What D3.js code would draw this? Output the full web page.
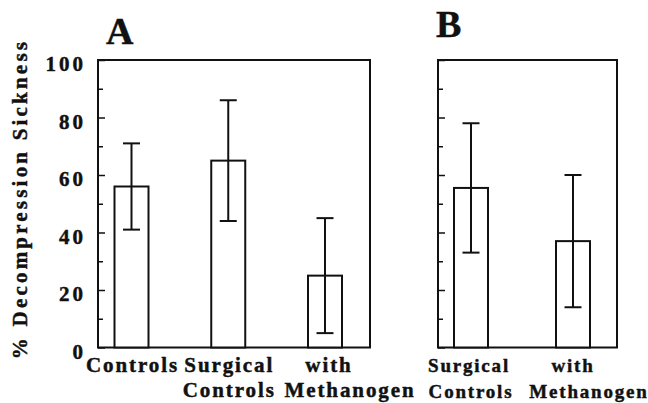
<!doctype html>
<html lang="en">
<head>
  <meta charset="utf-8">
  <title>Decompression sickness</title>
  <style>
  body { margin: 0; background: #fff; }
  svg { display: block; }
  svg text { stroke: #111; stroke-width: 0.45px; }
  .frame, .bar, .err { stroke: #111; stroke-width: 2; }
  .frame { fill: none; }
  .bar { fill: #fff; }
  </style>
</head>
<body>
  <div id="chart"></div>
  <script src="https://d3js.org/d3.v7.min.js"></script>
  <script>
// panel A
var catsA = [["Controls"], ["Surgical", "Controls"], ["with", "Methanogen"]];
var meanA = [56, 65, 25];
var hiA = [71, 86, 45];
var loA = [41, 44, 5];

// panel B
var catsB = [["Surgical", "Controls"], ["with", "Methanogen"]];
var meanB = [55.5, 37];
var hiB = [78, 60];
var loB = [33, 14];

var yTicks = [0, 10, 20, 30, 40, 50, 60, 70, 80, 90, 100];
var yLabels = ["0", "20", "40", "60", "80", "100"];

(function() {
  var width = 648, height = 403;
  var serif = "'Liberation Serif', 'Times New Roman', 'DejaVu Serif', serif";

  var svg = d3.select("#chart").append("svg")
      .attr("width", width)
      .attr("height", height)
      .attr("font-family", serif)
      .attr("font-weight", "bold");

  var y = d3.scaleLinear().domain([0, 100]).range([347.5, 60]);

  function panel(opt) {
    var g = svg.append("g");
    var x = d3.scaleLinear().domain([0, opt.mean.length - 1]).range(opt.centers);

    var axis = d3.axisLeft(y)
        .tickValues(yTicks)
        .tickSize(-7)
        .tickPadding(12)
        .tickFormat(function(d) {
          return opt.labels && yLabels.indexOf(String(d)) >= 0 ? d : "";
        });

    var ax = g.append("g")
        .attr("transform", "translate(" + opt.left + ",0)")
        .call(axis)
        .attr("font-family", serif)
        .attr("font-size", 21);
    ax.select(".domain").remove();
    ax.selectAll(".tick line")
        .attr("stroke", "#111")
        .attr("stroke-width", 1.5)
        .attr("x2", function(d) { return d % 20 === 0 ? 7 : 5; });
    ax.selectAll(".tick text")
        .attr("dy", "0.52em")
        .style("font-family", serif)
        .style("font-weight", "bold")
        .style("letter-spacing", "3px")
        .attr("fill", "#111");

    g.append("rect")
        .attr("class", "frame")
        .attr("x", opt.left)
        .attr("y", y(100))
        .attr("width", opt.right - opt.left)
        .attr("height", y(0) - y(100));

    var bw = 34;
    g.selectAll(".bar").data(opt.mean).enter().append("rect")
        .attr("class", "bar")
        .attr("x", function(d, i) { return x(i) - bw / 2; })
        .attr("y", function(d) { return y(d); })
        .attr("width", bw)
        .attr("height", function(d) { return y(0) - y(d); });

    var err = g.selectAll(".errg").data(opt.mean).enter().append("g")
        .attr("class", "err");
    err.append("line")
        .attr("x1", function(d, i) { return x(i); })
        .attr("x2", function(d, i) { return x(i); })
        .attr("y1", function(d, i) { return y(opt.hi[i]); })
        .attr("y2", function(d, i) { return y(opt.lo[i]); });
    [opt.hi, opt.lo].forEach(function(arr) {
      err.append("line")
          .attr("x1", function(d, i) { return x(i) - 8.5; })
          .attr("x2", function(d, i) { return x(i) + 8.5; })
          .attr("y1", function(d, i) { return y(arr[i]); })
          .attr("y2", function(d, i) { return y(arr[i]); });
    });

    var lab = g.selectAll(".lab").data(opt.cats).enter().append("text")
        .attr("text-anchor", "middle")
        .attr("fill", "#111")
        .style("font-family", serif)
        .style("font-size", opt.fs + "px")
        .style("letter-spacing", opt.ls + "px");
    lab.each(function(lines, i) {
      var t = d3.select(this);
      lines.forEach(function(s, j) {
        var nudge = opt.nudge[s] || 0;
        t.append("tspan")
            .attr("x", x(i) + nudge)
            .attr("y", opt.base[j])
            .text(s);
      });
    });

    g.append("text")
        .attr("x", opt.tx)
        .attr("y", opt.ty)
        .attr("fill", "#111")
        .style("font-family", serif)
        .style("font-size", "38px")
        .text(opt.title);
  }

  panel({
    title: "A", tx: 106, ty: 43.5,
    left: 98, right: 370, centers: [131.5, 325],
    cats: catsA, mean: meanA, hi: hiA, lo: loA, labels: true,
    fs: 21, ls: 1.9, base: [371.5, 396.5],
    nudge: { "with": 4, "Methanogen": 25, "Surgical": 1, "Controls": 1 }
  });

  panel({
    title: "B", tx: 436, ty: 37,
    left: 438, right: 617, centers: [471, 573],
    cats: catsB, mean: meanB, hi: hiB, lo: loB, labels: false,
    fs: 19, ls: 1.8, base: [371.5, 397.5],
    nudge: { "Surgical": -2, "Controls": 0, "with": 0, "Methanogen": 16 }
  });

  svg.append("text")
      .attr("transform", "translate(27,199) rotate(-90)")
      .attr("text-anchor", "middle")
      .attr("fill", "#111")
      .style("font-family", serif)
      .style("font-size", "21px")
      .style("letter-spacing", "3.2px")
      .text("% Decompression Sickness");
})();
  </script>
</body>
</html>
